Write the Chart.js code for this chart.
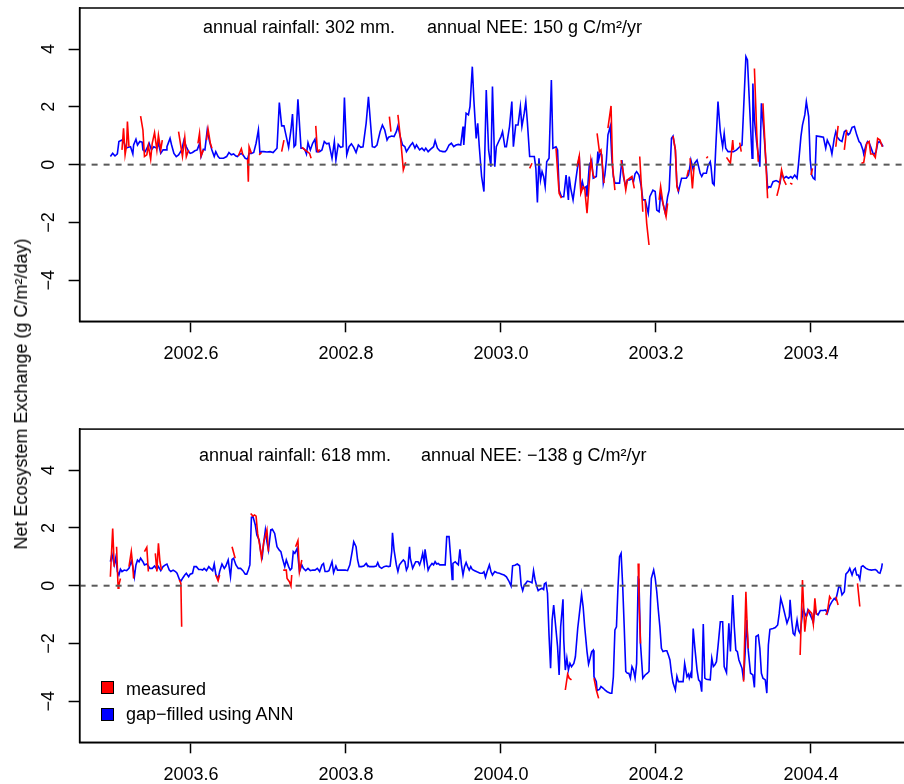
<!DOCTYPE html>
<html>
<head>
<meta charset="utf-8">
<script src="https://cdn.jsdelivr.net/npm/chart.js@4.4.1/dist/chart.umd.min.js"></script>
<style>
html,body{margin:0;padding:0;background:#fff;overflow:hidden;width:904px;height:784px;}
#wrap{position:relative;width:904px;height:784px;overflow:hidden;background:#fff;}
.cv{position:absolute;left:0;width:940px;height:392px;}
.txt{position:absolute;font-family:"Liberation Sans",Arial,Helvetica,sans-serif;font-size:18px;line-height:20px;color:#000;white-space:pre;}
.sq{position:absolute;width:11px;height:11px;border:1px solid #000;}
</style>
</head>
<body>
<div id="wrap">
  <canvas id="c1" class="cv" width="940" height="392" style="top:0px"></canvas>
  <canvas id="c2" class="cv" width="940" height="392" style="top:392px"></canvas>
  <div id="ytitle" class="txt" style="left:20.5px;top:394px;transform:translate(-50%,-50%) rotate(-90deg);"></div>
  <div id="a1l" class="txt" style="left:203px;top:17px"></div>
  <div id="a1r" class="txt" style="left:427px;top:17px"></div>
  <div id="a2l" class="txt" style="left:199px;top:445px"></div>
  <div id="a2r" class="txt" style="left:421px;top:445px"></div>
  <div class="sq" style="left:101px;top:681px;background:#ff0000"></div>
  <div class="sq" style="left:101px;top:708px;background:#0000ff"></div>
  <div id="leg1" class="txt" style="left:126px;top:679px"></div>
  <div id="leg2" class="txt" style="left:126px;top:704px"></div>
</div>
<script>
// ---------------- data ----------------
const yAxisTitle = "Net Ecosystem Exchange (g C/m\u00b2/day)";
const seriesNames = ["measured", "gap\u2212filled using ANN"];
const panel1Notes = ["annual rainfall: 302 mm.", "annual NEE: 150 g C/m\u00b2/yr"];
const panel2Notes = ["annual rainfall: 618 mm.", "annual NEE: \u2212138 g C/m\u00b2/yr"];
const yTicks = [-4, -2, 0, 2, 4];
const p1XTicks = [2002.6, 2002.8, 2003.0, 2003.2, 2003.4];
const p2XTicks = [2003.6, 2003.8, 2004.0, 2004.2, 2004.4];
const p1XRange = [2002.4563, 2003.54];
const p2XRange = [2003.4563, 2004.54];
const yRange = [-5.42, 5.42];

// panel 1 (2002.5 - 2003.5): gap-filled daily NEE [decimal year, g C/m2/day]
const p1GapFilled = [[2002.496,0.28],[2002.499,0.39],[2002.502,0.30],[2002.505,0.37],[2002.507,0.80],[2002.511,0.85],[2002.514,0.74],[2002.516,0.57],[2002.519,0.60],[2002.522,0.62],[2002.525,0.37],[2002.526,0.68],[2002.529,0.88],[2002.531,0.68],[2002.534,0.80],[2002.537,0.78],[2002.538,0.51],[2002.541,0.45],[2002.544,0.62],[2002.546,0.74],[2002.549,0.51],[2002.552,0.62],[2002.556,0.57],[2002.558,0.74],[2002.561,0.39],[2002.564,0.51],[2002.568,0.51],[2002.569,0.62],[2002.573,0.91],[2002.575,0.68],[2002.578,0.39],[2002.581,0.28],[2002.584,0.34],[2002.588,0.51],[2002.591,0.85],[2002.594,0.62],[2002.597,0.45],[2002.599,0.39],[2002.602,0.42],[2002.605,0.48],[2002.608,0.51],[2002.611,0.72],[2002.613,0.28],[2002.616,0.53],[2002.618,0.51],[2002.621,1.20],[2002.624,0.80],[2002.627,0.51],[2002.630,0.28],[2002.632,0.45],[2002.635,0.28],[2002.637,0.22],[2002.642,0.22],[2002.646,0.28],[2002.649,0.42],[2002.652,0.34],[2002.655,0.37],[2002.658,0.30],[2002.660,0.28],[2002.662,0.34],[2002.665,0.39],[2002.667,0.34],[2002.670,0.22],[2002.673,0.19],[2002.675,0.39],[2002.678,0.39],[2002.681,0.42],[2002.684,0.74],[2002.687,1.20],[2002.689,0.39],[2002.691,0.45],[2002.694,0.45],[2002.698,0.44],[2002.702,0.45],[2002.706,0.42],[2002.711,0.57],[2002.714,2.15],[2002.717,1.34],[2002.720,1.34],[2002.723,0.97],[2002.726,0.60],[2002.729,1.20],[2002.731,1.75],[2002.733,0.62],[2002.735,0.68],[2002.738,2.26],[2002.742,0.57],[2002.745,0.57],[2002.747,0.51],[2002.749,0.37],[2002.751,0.76],[2002.754,0.51],[2002.757,0.74],[2002.760,0.88],[2002.762,0.45],[2002.766,0.45],[2002.769,0.51],[2002.772,0.80],[2002.775,0.72],[2002.778,0.74],[2002.782,0.22],[2002.785,0.80],[2002.787,0.16],[2002.790,0.70],[2002.793,0.60],[2002.796,0.62],[2002.798,2.32],[2002.801,0.34],[2002.804,0.62],[2002.807,0.72],[2002.810,0.60],[2002.813,0.42],[2002.816,0.68],[2002.819,0.60],[2002.822,0.62],[2002.826,1.43],[2002.829,2.35],[2002.832,1.32],[2002.834,0.62],[2002.837,0.60],[2002.840,0.68],[2002.844,1.14],[2002.847,1.37],[2002.850,1.20],[2002.853,0.85],[2002.855,0.95],[2002.859,0.99],[2002.862,0.97],[2002.865,1.14],[2002.867,1.34],[2002.870,0.97],[2002.873,0.68],[2002.876,0.62],[2002.878,0.45],[2002.882,0.62],[2002.883,0.66],[2002.886,0.76],[2002.889,0.57],[2002.891,0.68],[2002.895,0.51],[2002.898,0.57],[2002.901,0.48],[2002.903,0.57],[2002.906,0.45],[2002.909,0.53],[2002.913,0.62],[2002.915,0.83],[2002.918,0.57],[2002.921,0.48],[2002.925,0.45],[2002.928,0.45],[2002.930,0.51],[2002.933,0.68],[2002.936,0.74],[2002.939,0.62],[2002.942,0.68],[2002.945,0.70],[2002.948,0.68],[2002.951,1.32],[2002.952,0.68],[2002.955,1.78],[2002.958,1.72],[2002.960,2.01],[2002.963,3.39],[2002.965,2.24],[2002.968,0.91],[2002.970,1.43],[2002.972,0.62],[2002.975,-0.41],[2002.978,-0.93],[2002.981,2.58],[2002.984,0.51],[2002.987,-0.07],[2002.989,2.70],[2002.992,-0.07],[2002.994,0.62],[2002.997,0.80],[2003.000,0.97],[2003.002,1.14],[2003.005,0.62],[2003.007,0.62],[2003.011,1.32],[2003.014,2.18],[2003.016,0.62],[2003.019,1.37],[2003.022,1.37],[2003.025,2.01],[2003.027,1.32],[2003.030,1.78],[2003.032,2.18],[2003.034,1.49],[2003.037,0.28],[2003.040,0.28],[2003.043,0.28],[2003.045,-0.13],[2003.047,-1.31],[2003.049,0.22],[2003.051,-0.53],[2003.053,-0.24],[2003.055,-0.41],[2003.057,-0.76],[2003.059,0.10],[2003.062,0.22],[2003.065,2.93],[2003.067,0.57],[2003.071,0.62],[2003.073,0.51],[2003.075,-0.88],[2003.078,-1.11],[2003.081,-1.11],[2003.084,-0.36],[2003.087,-1.22],[2003.088,-0.41],[2003.090,-0.82],[2003.093,-1.22],[2003.095,-0.82],[2003.098,-0.24],[2003.101,0.28],[2003.103,-0.88],[2003.105,-0.59],[2003.107,-0.82],[2003.110,-0.76],[2003.111,-1.11],[2003.114,-0.01],[2003.117,0.16],[2003.119,-0.47],[2003.123,-0.41],[2003.125,0.45],[2003.126,0.16],[2003.128,0.39],[2003.130,0.34],[2003.132,-0.64],[2003.134,-0.36],[2003.136,0.16],[2003.138,1.03],[2003.141,1.32],[2003.143,0.22],[2003.145,-0.41],[2003.147,-0.64],[2003.150,-0.64],[2003.153,-0.64],[2003.156,0.16],[2003.158,-0.41],[2003.161,-0.76],[2003.163,-0.53],[2003.166,-0.53],[2003.169,-0.47],[2003.171,-0.59],[2003.173,-0.32],[2003.175,-0.24],[2003.178,-0.36],[2003.181,-0.76],[2003.183,-1.22],[2003.186,-1.22],[2003.190,-1.68],[2003.192,-1.11],[2003.196,-0.88],[2003.199,-0.93],[2003.201,-1.57],[2003.204,-1.63],[2003.206,-0.99],[2003.209,-1.34],[2003.212,-1.68],[2003.215,-1.11],[2003.217,-0.88],[2003.220,0.91],[2003.222,0.99],[2003.225,0.51],[2003.227,-0.70],[2003.229,-0.93],[2003.231,-0.70],[2003.233,-0.47],[2003.235,-0.47],[2003.239,-0.47],[2003.242,-0.36],[2003.245,0.16],[2003.248,-0.18],[2003.250,0.05],[2003.253,0.16],[2003.255,-0.07],[2003.257,-0.30],[2003.259,-0.41],[2003.261,-0.30],[2003.265,-0.30],[2003.267,-0.05],[2003.270,0.10],[2003.271,-0.07],[2003.273,-0.64],[2003.275,-0.70],[2003.277,0.51],[2003.280,2.18],[2003.283,1.14],[2003.286,0.62],[2003.288,1.08],[2003.290,0.57],[2003.293,0.45],[2003.296,0.45],[2003.300,0.45],[2003.304,0.51],[2003.308,0.62],[2003.311,0.68],[2003.313,1.89],[2003.316,3.74],[2003.318,3.62],[2003.321,1.89],[2003.324,0.22],[2003.325,2.81],[2003.327,1.55],[2003.330,0.74],[2003.333,0.16],[2003.334,-0.07],[2003.336,2.12],[2003.339,1.20],[2003.342,0.05],[2003.344,-0.82],[2003.346,-0.76],[2003.348,-0.78],[2003.351,-0.59],[2003.355,-0.55],[2003.358,-0.59],[2003.360,-0.64],[2003.362,-0.30],[2003.365,-0.47],[2003.368,-0.41],[2003.371,-0.47],[2003.374,-0.41],[2003.376,-0.47],[2003.379,-0.36],[2003.382,-0.47],[2003.384,0.05],[2003.387,0.97],[2003.389,1.37],[2003.392,1.72],[2003.394,2.18],[2003.397,1.66],[2003.399,0.16],[2003.401,-0.36],[2003.403,-0.47],[2003.405,-0.51],[2003.407,0.99],[2003.412,0.97],[2003.416,0.95],[2003.419,0.57],[2003.421,0.85],[2003.425,0.62],[2003.427,0.37],[2003.430,0.91],[2003.432,1.14],[2003.434,0.95],[2003.437,0.85],[2003.440,0.80],[2003.443,1.14],[2003.445,1.18],[2003.448,1.03],[2003.450,1.08],[2003.453,1.29],[2003.456,1.32],[2003.459,1.03],[2003.462,0.80],[2003.464,0.74],[2003.467,0.51],[2003.468,0.37],[2003.471,0.68],[2003.473,0.80],[2003.475,0.76],[2003.477,0.62],[2003.480,0.39],[2003.482,0.37],[2003.484,0.45],[2003.486,0.74],[2003.488,0.80],[2003.491,0.72],[2003.493,0.62]];

// panel 1: measured NEE (null = gap in measurements)
const p1Measured = [[2002.511,0.51],[2002.513,1.26],[2002.515,0.34],[2002.517,0.68],[2002.518,1.49],[2002.520,0.62],[2002.521,null],
[2002.535,1.68],[2002.538,1.20],[2002.540,0.28],[2002.543,0.34],[2002.545,0.66],[2002.548,0.19],[2002.550,0.74],[2002.553,1.11],[2002.556,0.51],[2002.558,1.02],[2002.561,0.51],[2002.563,0.85],[2002.564,null],
[2002.584,1.14],[2002.587,0.62],[2002.589,0.28],[2002.592,0.94],[2002.594,0.28],[2002.597,0.51],[2002.598,null],
[2002.609,0.74],[2002.611,1.08],[2002.613,0.30],[2002.616,0.51],[2002.617,null],
[2002.620,0.85],[2002.622,1.24],[2002.625,0.74],[2002.627,0.57],[2002.628,null],
[2002.661,0.30],[2002.665,0.55],[2002.667,0.34],[2002.668,null],
[2002.673,0.19],[2002.674,-0.59],[2002.675,0.62],[2002.678,0.39],[2002.679,null],
[2002.688,0.34],[2002.691,0.42],[2002.692,null],
[2002.717,0.45],[2002.720,0.85],[2002.721,null],
[2002.743,0.60],[2002.747,0.51],[2002.750,0.45],[2002.753,0.39],[2002.755,0.22],[2002.756,null],
[2002.761,1.34],[2002.763,0.51],[2002.764,0.45],[2002.766,0.53],[2002.767,null],
[2002.856,1.66],[2002.858,1.14],[2002.859,null],
[2002.867,1.72],[2002.871,0.74],[2002.874,-0.18],[2002.877,0.08],[2002.878,null],
[2003.037,-0.13],[2003.040,0.05],[2003.041,null],
[2003.071,0.57],[2003.075,-0.99],[2003.078,-1.16],[2003.079,null],
[2003.098,-0.07],[2003.101,0.30],[2003.103,-0.99],[2003.106,-0.76],[2003.108,-0.82],[2003.111,-1.68],[2003.116,0.16],[2003.119,-0.36],[2003.121,-0.47],[2003.122,null],
[2003.124,1.08],[2003.127,0.45],[2003.129,0.51],[2003.133,-0.64],[2003.134,null],
[2003.138,1.26],[2003.142,2.03],[2003.144,-0.07],[2003.147,-0.88],[2003.148,null],
[2003.155,0.16],[2003.158,-0.30],[2003.161,-0.88],[2003.163,-0.53],[2003.169,-0.41],[2003.172,-0.82],[2003.173,null],
[2003.179,0.28],[2003.183,-1.63],[2003.184,null],
[2003.186,-1.22],[2003.188,-2.03],[2003.191,-2.78],[2003.192,null],
[2003.204,-1.22],[2003.206,-0.76],[2003.209,-1.34],[2003.213,-1.80],[2003.215,-1.34],[2003.216,null],
[2003.222,0.99],[2003.225,0.51],[2003.227,-0.76],[2003.229,-0.93],[2003.230,null],
[2003.240,-0.41],[2003.242,-0.18],[2003.243,null],
[2003.244,0.22],[2003.247,-0.82],[2003.249,-0.10],[2003.250,null],
[2003.265,0.22],[2003.267,0.28],[2003.268,null],
[2003.291,0.25],[2003.296,0.05],[2003.299,0.85],[2003.300,0.51],[2003.301,null],
[2003.308,0.76],[2003.310,0.45],[2003.311,null],
[2003.327,3.33],[2003.330,1.08],[2003.332,0.10],[2003.333,null],
[2003.338,2.12],[2003.341,0.51],[2003.344,-1.16],[2003.345,null],
[2003.356,-1.08],[2003.359,-0.76],[2003.362,-0.18],[2003.365,-0.53],[2003.368,-0.70],[2003.369,null],
[2003.373,-0.64],[2003.376,-0.68],[2003.377,null],
[2003.400,-0.36],[2003.402,-0.13],[2003.403,null],
[2003.432,0.62],[2003.435,1.34],[2003.436,null],
[2003.443,0.51],[2003.446,1.20],[2003.447,null],
[2003.465,0.05],[2003.468,0.07],[2003.472,0.74],[2003.475,0.80],[2003.477,0.37],[2003.480,0.37],[2003.483,0.25],[2003.486,0.91],[2003.489,0.85],[2003.492,0.62]];

// panel 2 (2003.5 - 2004.5): gap-filled daily NEE
const p2GapFilled = [[2003.496,0.83],[2003.498,1.10],[2003.501,0.72],[2003.503,0.98],[2003.505,0.49],[2003.507,0.37],[2003.509,0.57],[2003.511,0.49],[2003.514,0.54],[2003.517,0.52],[2003.520,0.60],[2003.523,0.85],[2003.525,0.66],[2003.527,0.31],[2003.529,0.72],[2003.531,0.89],[2003.533,0.83],[2003.535,0.95],[2003.538,0.83],[2003.540,0.72],[2003.543,0.75],[2003.545,0.68],[2003.547,0.60],[2003.550,0.60],[2003.553,0.68],[2003.556,0.57],[2003.558,0.66],[2003.561,0.52],[2003.564,0.66],[2003.567,0.72],[2003.569,0.75],[2003.572,0.54],[2003.574,0.49],[2003.577,0.54],[2003.580,0.49],[2003.582,0.43],[2003.585,0.22],[2003.587,0.16],[2003.589,0.25],[2003.592,0.37],[2003.594,0.43],[2003.597,0.31],[2003.599,0.40],[2003.602,0.43],[2003.604,0.66],[2003.607,0.66],[2003.610,0.56],[2003.613,0.56],[2003.615,0.54],[2003.617,0.60],[2003.620,0.52],[2003.623,0.66],[2003.625,0.60],[2003.628,0.52],[2003.630,0.75],[2003.632,0.40],[2003.635,0.23],[2003.637,0.49],[2003.640,0.75],[2003.643,0.60],[2003.645,0.68],[2003.648,0.89],[2003.651,0.31],[2003.653,0.91],[2003.655,0.95],[2003.658,0.72],[2003.661,0.60],[2003.664,0.60],[2003.667,0.52],[2003.670,0.40],[2003.672,0.40],[2003.674,0.54],[2003.676,0.72],[2003.678,2.37],[2003.680,2.39],[2003.683,2.10],[2003.685,1.75],[2003.688,1.58],[2003.690,1.18],[2003.692,1.00],[2003.694,1.52],[2003.696,1.93],[2003.698,1.52],[2003.700,1.23],[2003.703,1.93],[2003.705,1.95],[2003.708,1.81],[2003.711,1.35],[2003.714,1.23],[2003.716,1.18],[2003.718,0.95],[2003.721,0.66],[2003.723,0.89],[2003.726,0.66],[2003.728,0.54],[2003.730,0.60],[2003.732,1.18],[2003.734,1.12],[2003.737,1.29],[2003.740,0.49],[2003.743,0.72],[2003.745,0.60],[2003.748,0.52],[2003.751,0.60],[2003.754,0.52],[2003.757,0.54],[2003.760,0.54],[2003.763,0.60],[2003.766,0.49],[2003.769,0.72],[2003.771,0.77],[2003.773,0.49],[2003.776,0.49],[2003.778,0.52],[2003.782,0.83],[2003.784,0.45],[2003.787,0.68],[2003.789,0.54],[2003.792,0.54],[2003.796,0.54],[2003.799,0.54],[2003.802,0.52],[2003.805,0.72],[2003.808,1.18],[2003.810,1.52],[2003.813,1.35],[2003.815,0.89],[2003.817,0.66],[2003.820,0.66],[2003.823,0.68],[2003.826,0.77],[2003.827,0.72],[2003.830,0.66],[2003.833,0.66],[2003.836,0.66],[2003.839,0.68],[2003.841,0.80],[2003.843,0.66],[2003.846,0.60],[2003.849,0.66],[2003.852,0.68],[2003.855,0.66],[2003.857,0.68],[2003.859,1.18],[2003.860,1.83],[2003.862,1.24],[2003.865,0.72],[2003.867,0.49],[2003.869,0.72],[2003.872,0.83],[2003.874,0.89],[2003.876,0.83],[2003.878,0.54],[2003.880,0.66],[2003.882,1.35],[2003.883,0.95],[2003.886,0.60],[2003.888,0.72],[2003.890,0.83],[2003.893,0.83],[2003.895,0.72],[2003.897,0.89],[2003.899,1.12],[2003.901,0.77],[2003.902,1.26],[2003.904,0.89],[2003.906,0.54],[2003.908,0.66],[2003.911,0.77],[2003.913,0.72],[2003.915,0.83],[2003.917,0.75],[2003.919,0.77],[2003.921,0.72],[2003.926,0.72],[2003.928,0.72],[2003.930,1.70],[2003.933,1.70],[2003.935,1.00],[2003.937,0.22],[2003.938,0.77],[2003.941,0.83],[2003.943,0.77],[2003.945,0.72],[2003.947,1.26],[2003.949,0.72],[2003.951,0.37],[2003.953,0.66],[2003.955,0.80],[2003.957,0.66],[2003.959,0.54],[2003.961,0.66],[2003.963,0.56],[2003.966,0.52],[2003.969,0.48],[2003.973,0.43],[2003.976,0.43],[2003.978,0.48],[2003.980,0.29],[2003.982,0.48],[2003.985,0.72],[2003.987,0.49],[2003.989,0.37],[2003.992,0.49],[2003.995,0.45],[2003.998,0.43],[2004.001,0.40],[2004.004,0.37],[2004.007,0.31],[2004.010,0.17],[2004.013,-0.01],[2004.015,0.69],[2004.018,0.71],[2004.021,0.75],[2004.024,0.69],[2004.026,0.02],[2004.028,-0.17],[2004.030,0.02],[2004.032,0.08],[2004.034,0.16],[2004.037,0.14],[2004.040,0.10],[2004.042,0.52],[2004.044,0.20],[2004.046,-0.01],[2004.048,-0.17],[2004.050,-0.13],[2004.053,-0.09],[2004.055,-0.13],[2004.056,0.06],[2004.058,0.10],[2004.060,-0.26],[2004.062,-1.71],[2004.064,-2.86],[2004.066,-1.19],[2004.068,-0.67],[2004.071,-1.53],[2004.073,-2.11],[2004.075,-3.09],[2004.077,-1.42],[2004.080,-0.47],[2004.081,-1.88],[2004.083,-2.92],[2004.085,-2.51],[2004.087,-2.92],[2004.089,-2.69],[2004.091,-2.80],[2004.094,-2.69],[2004.096,-2.46],[2004.099,-1.48],[2004.101,-1.01],[2004.104,-0.30],[2004.106,-0.73],[2004.108,-1.42],[2004.111,-2.28],[2004.113,-2.71],[2004.115,-2.51],[2004.117,-2.28],[2004.119,-2.23],[2004.120,-3.15],[2004.123,-3.32],[2004.124,-3.63],[2004.127,-3.59],[2004.129,-3.49],[2004.132,-3.55],[2004.134,-3.61],[2004.137,-3.67],[2004.141,-3.72],[2004.143,-3.72],[2004.145,-3.15],[2004.147,-1.53],[2004.149,-1.42],[2004.151,-0.03],[2004.153,1.00],[2004.155,1.12],[2004.157,0.02],[2004.159,-1.42],[2004.161,-2.97],[2004.163,-3.03],[2004.165,-3.03],[2004.167,-3.20],[2004.169,-2.80],[2004.171,-2.92],[2004.173,-3.20],[2004.175,-2.69],[2004.177,0.25],[2004.178,0.20],[2004.180,-2.00],[2004.183,-3.20],[2004.186,-3.09],[2004.189,-3.03],[2004.191,-2.97],[2004.193,-0.50],[2004.194,0.25],[2004.197,0.54],[2004.199,0.25],[2004.201,-0.21],[2004.203,-0.84],[2004.205,-1.42],[2004.207,-2.17],[2004.209,-2.28],[2004.212,-2.25],[2004.214,-2.25],[2004.216,-2.40],[2004.218,-2.57],[2004.220,-3.03],[2004.222,-3.36],[2004.225,-3.61],[2004.227,-3.13],[2004.229,-3.32],[2004.231,-3.32],[2004.233,-3.32],[2004.235,-3.32],[2004.237,-2.69],[2004.240,-3.15],[2004.242,-3.06],[2004.243,-3.20],[2004.245,-3.03],[2004.246,-3.20],[2004.248,-1.48],[2004.250,-2.11],[2004.253,-2.92],[2004.255,-3.26],[2004.257,-3.32],[2004.259,-3.67],[2004.261,-1.33],[2004.263,-3.20],[2004.265,-3.24],[2004.270,-3.26],[2004.272,-2.51],[2004.274,-2.80],[2004.276,-2.74],[2004.278,-2.63],[2004.280,-2.11],[2004.283,-1.25],[2004.286,-1.25],[2004.288,-2.80],[2004.291,-3.01],[2004.294,-1.30],[2004.296,-2.28],[2004.299,-0.32],[2004.301,-1.42],[2004.303,-2.23],[2004.305,-2.28],[2004.307,-2.57],[2004.311,-2.86],[2004.313,-3.26],[2004.315,-2.34],[2004.317,-1.19],[2004.319,-2.23],[2004.322,-3.03],[2004.325,-3.09],[2004.327,-3.52],[2004.329,-1.76],[2004.332,-1.71],[2004.334,-2.17],[2004.336,-3.03],[2004.338,-3.20],[2004.341,-3.26],[2004.343,-3.72],[2004.345,-2.05],[2004.347,-1.51],[2004.351,-1.48],[2004.354,-1.45],[2004.357,-1.36],[2004.359,-0.96],[2004.361,-0.44],[2004.364,-0.73],[2004.367,-1.07],[2004.369,-1.30],[2004.372,-1.07],[2004.373,-0.49],[2004.375,-1.19],[2004.377,-1.65],[2004.379,-1.71],[2004.382,-1.19],[2004.384,-1.55],[2004.386,-1.65],[2004.388,-1.19],[2004.390,-0.78],[2004.392,-0.96],[2004.394,-1.07],[2004.396,-0.84],[2004.399,-1.01],[2004.401,-1.13],[2004.403,-1.28],[2004.405,-0.78],[2004.407,-0.96],[2004.409,-1.01],[2004.412,-0.86],[2004.416,-0.86],[2004.419,-0.84],[2004.421,-0.96],[2004.424,-0.70],[2004.427,-0.55],[2004.430,-0.44],[2004.432,-0.49],[2004.434,-0.26],[2004.436,-0.01],[2004.438,-0.06],[2004.440,-0.32],[2004.443,-0.21],[2004.445,0.40],[2004.448,0.49],[2004.450,0.60],[2004.453,0.37],[2004.455,0.54],[2004.457,0.60],[2004.459,0.37],[2004.461,0.37],[2004.463,0.22],[2004.465,0.66],[2004.467,0.69],[2004.471,0.60],[2004.474,0.56],[2004.478,0.54],[2004.483,0.56],[2004.485,0.52],[2004.487,0.45],[2004.489,0.43],[2004.491,0.60],[2004.492,0.77]];

// panel 2: measured NEE (null = gap)
const p2Measured = [[2003.496,0.31],[2003.499,1.98],[2003.501,0.66],[2003.502,null],
[2003.504,1.35],[2003.506,-0.09],[2003.507,0.02],[2003.509,0.25],[2003.510,null],
[2003.520,0.66],[2003.523,1.18],[2003.525,0.66],[2003.526,0.25],[2003.527,null],
[2003.540,1.18],[2003.543,1.33],[2003.545,0.49],[2003.546,null],
[2003.554,1.12],[2003.556,0.49],[2003.558,1.47],[2003.560,0.83],[2003.562,0.54],[2003.563,null],
[2003.585,0.20],[2003.587,0.08],[2003.588,-1.42],[2003.589,null],
[2003.632,0.37],[2003.635,0.17],[2003.637,0.37],[2003.638,null],
[2003.653,1.35],[2003.657,0.95],[2003.658,null],
[2003.677,2.50],[2003.680,2.41],[2003.682,2.45],[2003.684,2.41],[2003.686,1.81],[2003.689,1.35],[2003.691,0.95],[2003.694,1.52],[2003.698,1.93],[2003.700,1.18],[2003.701,null],
[2003.719,0.54],[2003.723,0.54],[2003.724,0.25],[2003.727,0.14],[2003.729,-0.01],[2003.730,0.37],[2003.731,null],
[2003.735,1.35],[2003.738,1.56],[2003.740,0.49],[2003.743,0.89],[2003.744,null],
[2004.083,-3.61],[2004.086,-3.06],[2004.088,-3.20],[2004.091,-3.26],[2004.092,null],
[2004.120,-3.20],[2004.123,-3.61],[2004.126,-3.90],[2004.127,null],
[2004.177,0.77],[2004.178,-0.49],[2004.180,-2.00],[2004.181,null],
[2004.313,-3.32],[2004.316,-0.21],[2004.318,-1.65],[2004.319,-2.17],[2004.320,null],
[2004.386,-2.40],[2004.389,0.20],[2004.392,-1.59],[2004.394,-1.07],[2004.395,-1.01],[2004.397,-0.84],[2004.401,-0.96],[2004.403,-1.33],[2004.405,-0.44],[2004.407,-1.01],[2004.408,null],
[2004.419,-1.01],[2004.421,-0.93],[2004.424,-0.38],[2004.426,-0.47],[2004.427,null],
[2004.432,-0.38],[2004.435,-0.67],[2004.436,null],
[2004.460,0.08],[2004.463,-0.72]];

// ---------------- text ----------------
document.getElementById('ytitle').textContent = yAxisTitle;
document.getElementById('a1l').textContent = panel1Notes[0];
document.getElementById('a1r').textContent = panel1Notes[1];
document.getElementById('a2l').textContent = panel2Notes[0];
document.getElementById('a2r').textContent = panel2Notes[1];
document.getElementById('leg1').textContent = seriesNames[0];
document.getElementById('leg2').textContent = seriesNames[1];

// ---------------- charts ----------------
const FONT = '"Liberation Sans", Arial, Helvetica, sans-serif';
const toXY = arr => arr.map(p => ({x: p[0], y: p[1]}));

const framePlugin = {
  id: 'frame',
  afterDraw(chart) {
    const a = chart.chartArea, ctx = chart.ctx;
    ctx.save();
    ctx.strokeStyle = '#000';
    ctx.lineWidth = 1.5;
    ctx.strokeRect(a.left, a.top, a.right - a.left, a.bottom - a.top);
    ctx.restore();
  }
};

function makePanel(canvasId, gap, meas, xTicks, xRange, padTop, xAxisH) {
  return new Chart(document.getElementById(canvasId), {
    type: 'line',
    data: {
      datasets: [
        { label: 'zero', data: [{x: xRange[0], y: 0}, {x: xRange[1], y: 0}],
          borderColor: '#5a5a5a', borderWidth: 2, borderDash: [6, 6], pointRadius: 0, tension: 0 },
        { label: seriesNames[0], data: toXY(meas), borderColor: '#ff0000', borderWidth: 1.6,
          pointRadius: 0, tension: 0, spanGaps: false },
        { label: seriesNames[1], data: toXY(gap), borderColor: '#0000ff', borderWidth: 1.6,
          pointRadius: 0, tension: 0 }
      ]
    },
    options: {
      responsive: false, animation: false, events: [],
      layout: { autoPadding: false, padding: { left: 0, top: padTop, right: 20.5, bottom: 0 } },
      plugins: { legend: { display: false }, tooltip: { enabled: false }, title: { display: false } },
      scales: {
        x: {
          type: 'linear', min: xRange[0], max: xRange[1],
          afterBuildTicks: s => { s.ticks = xTicks.map(v => ({value: v})); },
          afterFit: s => { s.height = xAxisH; s.paddingLeft = 0; s.paddingRight = 0; },
          ticks: { autoSkip: false, maxRotation: 0, minRotation: 0, padding: 10.7, color: '#000',
                   font: { family: FONT, size: 18 }, callback: v => Number(v).toFixed(1) },
          grid: { display: true, drawOnChartArea: false, drawTicks: true, tickLength: 11,
                  tickColor: '#000', tickWidth: 1.5, color: '#000' },
          border: { display: true, color: '#000', width: 1.5 }
        },
        y: {
          type: 'linear', min: yRange[0], max: yRange[1],
          afterBuildTicks: s => { s.ticks = yTicks.map(v => ({value: v})); },
          afterFit: s => { s.width = 79.6; s.paddingTop = 0; s.paddingBottom = 0; },
          ticks: { autoSkip: false, minRotation: 90, maxRotation: 90, crossAlign: 'center', padding: 8.9,
                   color: '#000', font: { family: FONT, size: 18 },
                   callback: v => (v < 0 ? '\u2212' : '') + Math.abs(v) },
          grid: { display: true, drawOnChartArea: false, drawTicks: true, tickLength: 11,
                  tickColor: '#000', tickWidth: 1.5, color: '#000' },
          border: { display: true, color: '#000', width: 1.5 }
        }
      }
    },
    plugins: [framePlugin]
  });
}

makePanel('c1', p1GapFilled, p1Measured, p1XTicks, p1XRange, 8, 70.7);
makePanel('c2', p2GapFilled, p2Measured, p2XTicks, p2XRange, 37.1, 41.7);
</script>
</body>
</html>
